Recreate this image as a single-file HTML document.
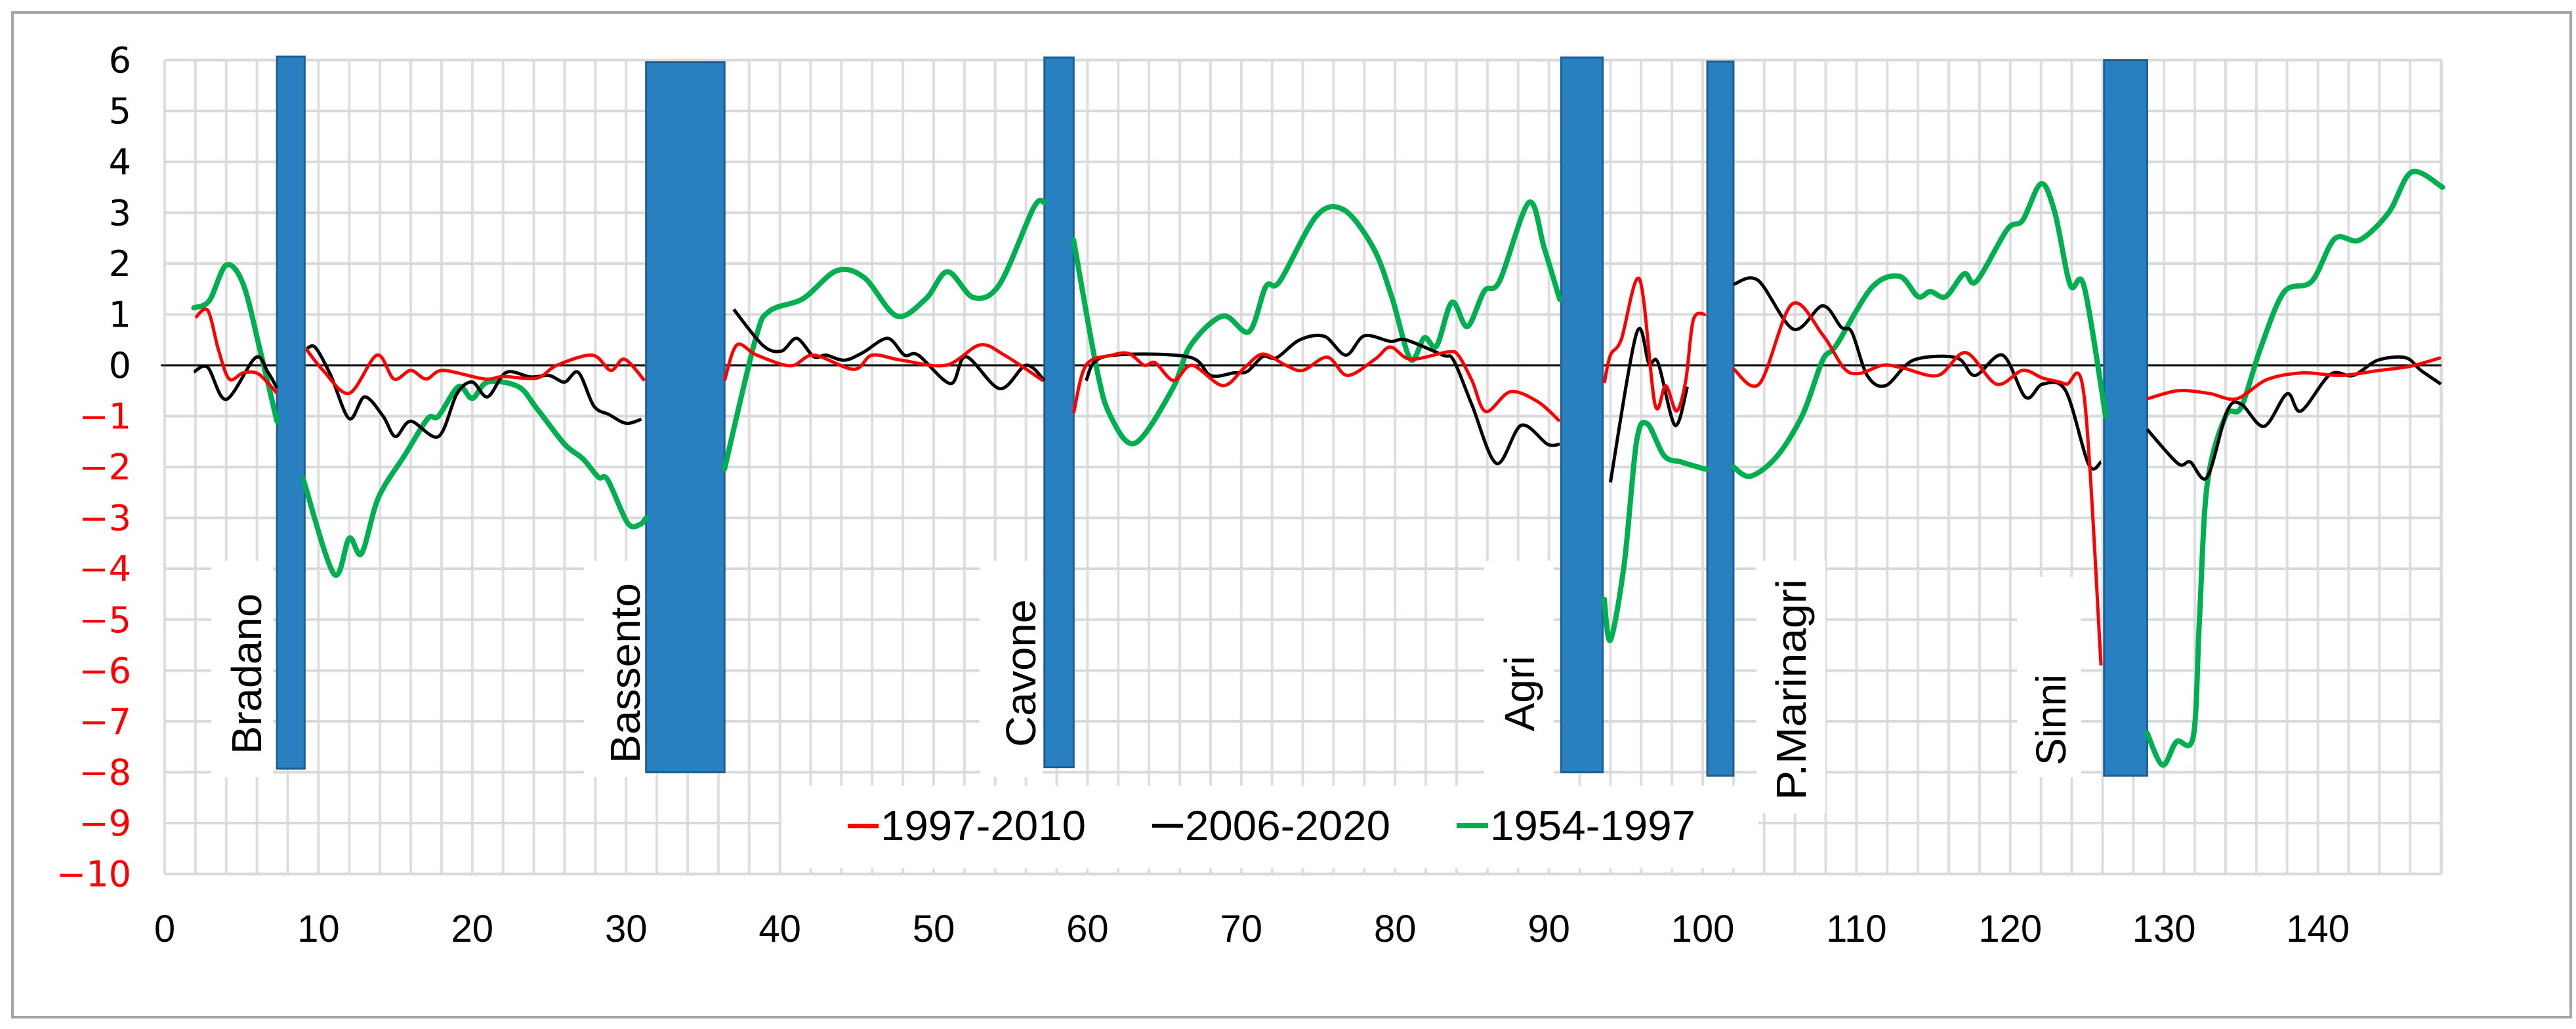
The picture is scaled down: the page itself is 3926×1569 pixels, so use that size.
<!DOCTYPE html>
<html><head><meta charset="utf-8"><style>
html,body{margin:0;padding:0;background:#fff;}
svg{display:block;font-family:"Liberation Sans",sans-serif;}
</style></head><body>
<svg id="chart" width="3926" height="1569" viewBox="0 0 3926 1569" xmlns="http://www.w3.org/2000/svg">
<rect x="19" y="19" width="3899" height="1532" fill="#fff" stroke="#a6a6a6" stroke-width="4"/>
<g id="grid"></g>
<g id="boxes"></g>
<line x1="245" x2="3721" y1="557" y2="557" stroke="#111" stroke-width="3"/>
<g id="bars"></g>
<g id="lines"></g>
<g id="yticks"></g>
<g id="xticks"></g>
<g id="rlabels"></g>
<g>
  <rect x="1191" y="1198" width="1489" height="126" fill="#fff"/>
  <g>
    <rect x="1292" y="1256" width="47" height="7" fill="#ff0000"/>
    <text x="1342" y="1281" font-size="64" textLength="313" lengthAdjust="spacingAndGlyphs" fill="#000">1997-2010</text>
  </g>
  <g>
    <rect x="1756" y="1256" width="47" height="6" fill="#000"/>
    <text x="1806" y="1281" font-size="64" textLength="313" lengthAdjust="spacingAndGlyphs" fill="#000">2006-2020</text>
  </g>
  <g>
    <rect x="2220" y="1255" width="48" height="8" fill="#00b050"/>
    <text x="2271" y="1281" font-size="64" textLength="313" lengthAdjust="spacingAndGlyphs" fill="#000">1954-1997</text>
  </g>
</g>
</svg>
<script>
// ---- data ----
const yTicks = [6,5,4,3,2,1,0,-1,-2,-3,-4,-5,-6,-7,-8,-9,-10];
const xTicks = [0,10,20,30,40,50,60,70,80,90,100,110,120,130,140];
const barNames = ["Bradano","Bassento","Cavone","Agri","P.Marinagri","Sinni"];
const barX0 = [7.3, 31.3, 57.2, 90.8, 100.3, 126.1];
const barX1 = [9.1, 36.4, 59.1, 93.5, 102.0, 128.9];
const barTop = [6.07, 5.96, 6.05, 6.05, 5.97, 6.0];
const barBottom = [-7.93, -8.0, -7.9, -8.0, -8.07, -8.07];

const redX = [2,2.8,3.5,4.2,5.1,6.1,7.3,null,9.2,10.3,12,13.8,14.9,16,17,18.1,20.8,22,24.2,25.5,27.8,29,29.9,31.2,null,36.4,37.2,38.5,40.7,42.2,44.8,46,47.9,50.8,53,54.6,57.1,null,59.1,59.9,61.6,62.7,63.7,64.4,65.6,66.8,68.8,70.2,71.4,72.9,74,75.6,76.9,78.7,79.7,81,83.4,84.1,85,85.9,87.5,89.3,90.7,null,93.6,94,94.7,95.9,96.9,97.6,98.3,98.9,99.4,100.2,null,102,103.7,105.8,107.8,109.2,110.2,111.7,113,115.3,117.1,119.1,120.8,122.1,123.6,124.8,125.9,null,128.9,130.9,132.9,134.7,136.7,139,141.5,144,146,148];
const redY = [0.94,1.08,0.3,-0.27,-0.15,-0.17,-0.55,null,0.32,-0.1,-0.55,0.2,-0.27,-0.1,-0.27,-0.1,-0.27,-0.22,-0.25,0,0.2,-0.1,0.12,-0.3,null,-0.3,0.4,0.2,-0.01,0.2,-0.08,0.2,0.1,0,0.4,0.2,-0.3,null,-0.94,0,0.2,0.23,0,0.05,-0.3,0,-0.4,-0.05,0.22,0,-0.1,0.16,-0.2,0.12,0.36,0.12,0.26,0.2,-0.3,-0.91,-0.52,-0.72,-1.1,null,-0.35,0.2,0.5,1.69,-0.77,-0.4,-0.9,-0.3,0.9,1.0,null,-0.07,-0.36,1.2,0.6,-0.06,-0.16,0,-0.05,-0.2,0.25,-0.37,-0.1,-0.25,-0.37,-0.6,-5.9,null,-0.66,-0.5,-0.55,-0.66,-0.28,-0.15,-0.2,-0.1,-0.02,0.15];

const blackX = [1.9,2.8,4,5.9,6.7,7.3,null,9.2,9.8,10.8,12,13,14.2,15,16,17.8,19,20,21,22.2,23.8,25,26,26.9,27.9,28.9,30,31,null,37,38.9,40.1,41.1,42.2,43,44.2,45.4,47,48.1,49,51.1,52.1,54.3,56,57.2,null,59.9,61.1,66.5,68,69.5,70.4,71.4,72.3,73.8,75.4,76.8,78,79.7,80.7,83.1,83.8,85,86.6,88.2,89.9,90.7,null,94,95.7,96.5,97.1,98.2,99,null,102,103.6,105.9,107.8,109,109.7,110.7,111.9,113.7,116.5,117.7,119.5,121,122.1,123.6,125.1,125.9,null,128.9,130.9,131.7,132.8,134.1,135,136.5,138,138.9,140.8,142.3,143.9,145.7,146.7,148];
const blackY = [-0.13,-0.04,-0.67,0.15,-0.13,-0.45,null,0.32,0.35,-0.2,-1.05,-0.62,-1,-1.4,-1.1,-1.4,-0.56,-0.33,-0.62,-0.14,-0.23,-0.2,-0.33,-0.14,-0.8,-0.97,-1.14,-1.06,null,1.1,0.39,0.28,0.53,0.17,0.2,0.1,0.25,0.53,0.2,0.2,-0.36,0.17,-0.46,0,-0.3,null,-0.3,0.17,0.17,-0.2,-0.15,-0.12,0.17,0.15,0.5,0.57,0.2,0.58,0.47,0.5,0.2,0.1,-0.78,-1.93,-1.18,-1.55,-1.55,null,-2.3,0.63,0.04,0.05,-1.18,-0.42,null,1.59,1.67,0.71,1.17,0.75,0.65,-0.2,-0.4,0.1,0.15,-0.2,0.2,-0.63,-0.37,-0.5,-1.95,-1.9,null,-1.26,-1.93,-1.9,-2.2,-0.9,-0.76,-1.2,-0.56,-0.9,-0.18,-0.2,0.1,0.15,-0.1,-0.37];

const greenX = [1.9,2.9,4,5.1,6.2,7.3,null,9,11,12,12.8,13.9,15.6,17.1,17.8,19.1,20,21,23,24.2,26,27.2,28.2,28.8,30.1,30.9,31.3,null,36.4,38.4,39.3,41.5,43.7,45.5,47.6,49.5,50.9,52.6,54.3,56.5,57.2,null,59.1,60.6,61.5,63.1,65.5,66.7,68.8,70.5,71.6,72.5,74.9,76.7,78.6,79.8,81,81.9,82.7,83.7,84.7,85.8,86.8,88.7,89.7,90.7,null,93.6,94,94.9,95.7,96.4,97.5,98.6,99.7,100.3,null,102,103.1,104.8,106.5,107.8,108.7,111,112.8,114,114.8,115.8,117,117.8,119.8,120.8,122,122.9,123.9,124.8,126.2,null,128.9,129.9,130.8,131.9,132.3,132.8,134,135,136.3,137.8,139.6,141.1,142.7,144.6,146.1,148.1];
const greenY = [1.13,1.27,1.97,1.6,0.3,-1.1,null,-2.23,-4.1,-3.4,-3.7,-2.6,-1.77,-1.05,-1.0,-0.42,-0.65,-0.33,-0.42,-0.85,-1.55,-1.84,-2.2,-2.25,-3.1,-3.13,-3.0,null,-2.04,0.5,1.06,1.31,1.86,1.72,0.97,1.31,1.84,1.33,1.6,3.1,3.2,null,2.46,-0.07,-1.0,-1.53,-0.48,0.39,0.97,0.66,1.55,1.65,2.94,3.05,2.3,1.33,0.12,0.54,0.38,1.24,0.76,1.46,1.66,3.2,2.3,1.3,null,-4.6,-5.4,-3.9,-1.5,-1.15,-1.78,-1.9,-2.0,-2.05,null,-2.0,-2.18,-1.8,-0.97,0.1,0.4,1.53,1.75,1.35,1.45,1.35,1.8,1.65,2.67,2.85,3.57,3.0,1.58,1.55,-1.0,null,-7.23,-7.86,-7.4,-7.3,-5.0,-2.35,-1.0,-0.83,0.36,1.44,1.65,2.49,2.46,3.0,3.8,3.5];

// ---- scales ----
const X0 = 251, XU = 23.44, Y0 = 557, YU = 77.56;
const sx = v => X0 + v * XU;
const sy = v => Y0 - v * YU;
const NS = "http://www.w3.org/2000/svg";
function mk(tag, attrs, parent){ const e=document.createElementNS(NS,tag); for(const k in attrs) e.setAttribute(k,attrs[k]); parent.appendChild(e); return e; }

// grid
const grid = document.getElementById('grid');
for (let v = 0; v <= 148; v += 2) {
  const l = mk('line',{x1:sx(v),x2:sx(v),y1:sy(6),y2:sy(-10),stroke:'#dedede','stroke-width':4},grid);
  
  
}
mk('line',{x1:3721,x2:3721,y1:sy(6),y2:sy(-10),stroke:'#dedede','stroke-width':4},grid);
for (let v = -10; v <= 6; v++) {
  const l = mk('line',{x1:sx(0),x2:3721,y1:sy(v),y2:sy(v),stroke:'#d9d9d9','stroke-width':4},grid);
  
  
}

// white label backgrounds
const boxes = document.getElementById('boxes');
const boxDefs = [[322,855,94,330],[890,855,95,330],[1493,855,96,330],[2262,855,106,345],[2677,855,105,385],[3074,880,98,305]];
boxDefs.forEach(b => {
  const r = mk('rect',{x:b[0],y:b[1],width:b[2],height:b[3],fill:'#fff'},boxes);
  
  
});

// bars
const bars = document.getElementById('bars');
barNames.forEach((n,i) => {
  const r = mk('rect',{x:sx(barX0[i]),y:sy(barTop[i]),width:sx(barX1[i])-sx(barX0[i]),height:sy(barBottom[i])-sy(barTop[i]),fill:'#2880c0',stroke:'#1d5f94','stroke-width':3},bars);
  
  
});

// lines
function pathFor(xs, ys){
  let d = '', seg = [];
  const flush = () => {
    if (seg.length < 2) { seg = []; return; }
    d += 'M' + seg[0][0].toFixed(1) + ' ' + seg[0][1].toFixed(1);
    for (let i = 0; i < seg.length - 1; i++) {
      const p0 = seg[Math.max(0,i-1)], p1 = seg[i], p2 = seg[i+1], p3 = seg[Math.min(seg.length-1,i+2)];
      const t = 0.16;
      const c1x = p1[0] + (p2[0]-p0[0])*t, c1y = p1[1] + (p2[1]-p0[1])*t;
      const c2x = p2[0] - (p3[0]-p1[0])*t, c2y = p2[1] - (p3[1]-p1[1])*t;
      d += 'C' + c1x.toFixed(1)+' '+c1y.toFixed(1)+' '+c2x.toFixed(1)+' '+c2y.toFixed(1)+' '+p2[0].toFixed(1)+' '+p2[1].toFixed(1);
    }
    seg = [];
  };
  for (let i = 0; i < xs.length; i++) {
    if (xs[i] === null || ys[i] === null) { flush(); continue; }
    seg.push([sx(xs[i]), sy(ys[i])]);
  }
  flush();
  return d;
}
const lines = document.getElementById('lines');
const g1 = mk('path',{d:pathFor(greenX,greenY),fill:'none',stroke:'#00b050','stroke-width':8,'stroke-linejoin':'round','stroke-linecap':'round'},lines);


const b1 = mk('path',{d:pathFor(blackX,blackY),fill:'none',stroke:'#000','stroke-width':5,'stroke-linejoin':'round'},lines);


const r1 = mk('path',{d:pathFor(redX,redY),fill:'none',stroke:'#ff0000','stroke-width':5,'stroke-linejoin':'round'},lines);



// y tick labels
const yt = document.getElementById('yticks');
yTicks.forEach(v => {
  const t = mk('text',{x:200,y:sy(v)+19,'font-size':54,'font-family':'"DejaVu Sans", sans-serif','text-anchor':'end',fill: v<0 ? '#ff0000' : '#000'},yt);
  t.textContent = v < 0 ? '\u2212' + Math.abs(v) : String(v);
  
  
});
// x tick labels
const xt = document.getElementById('xticks');
xTicks.forEach(v => {
  const t = mk('text',{x:sx(v),y:1436,'font-size':58,'text-anchor':'middle',fill:'#000'},xt);
  t.textContent = String(v);
  
  
});
// river labels (rotated)
const rl = document.getElementById('rlabels');
const lblBase = [398, 975, 1578, 2338, 2752, 3148];
const lblStart = [1150, 1164, 1139, 1115, 1220, 1167];
const lblLen = [245, 275, 225, 115, 337, 139];
barNames.forEach((n,i) => {
  const t = mk('text',{x:0,y:0,'font-size':64,fill:'#000',textLength:lblLen[i],lengthAdjust:'spacingAndGlyphs',transform:'translate('+lblBase[i]+','+lblStart[i]+') rotate(-90)'},rl);
  t.textContent = n;
  
  
});
</script>
</body></html>
